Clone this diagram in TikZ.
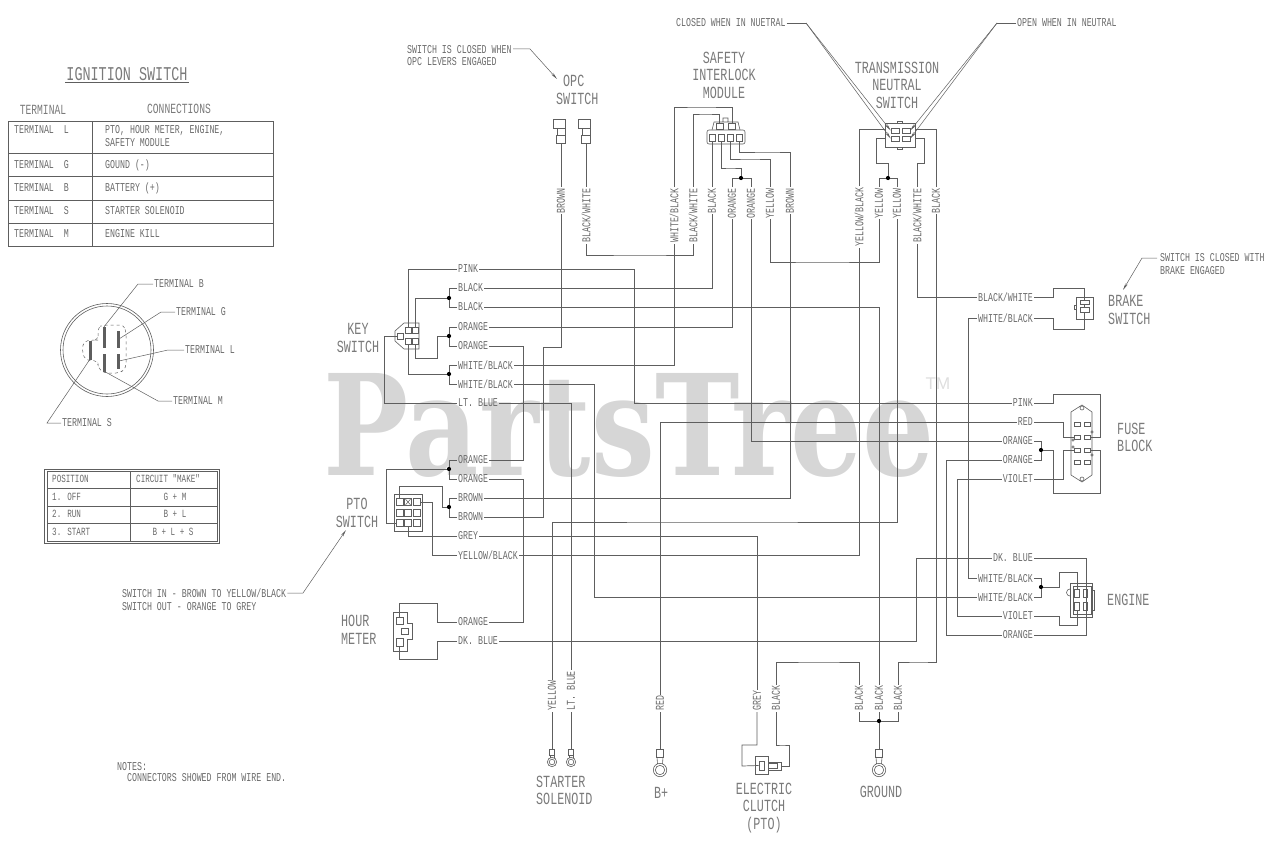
\documentclass[tikz,border=0pt]{standalone}
\usepackage{fontspec}
\usepackage{tikz}
\usetikzlibrary{arrows.meta}
\newfontfamily\cadfont[FakeStretch=0.69]{Liberation Mono}
\newfontfamily\markfont[FakeStretch=0.81]{DejaVu Serif}
\newfontfamily\tmfont{Liberation Sans}
\definecolor{wirecol}{HTML}{5E5E5E}
\definecolor{txtcol}{HTML}{6A6A6A}
\definecolor{bigcol}{HTML}{7A7A7A}
\definecolor{markcol}{HTML}{D6D6D6}
\tikzset{
  note/.style={font=\cadfont\fontsize{12}{12.5}\selectfont, text=txtcol, inner sep=1pt, align=left},
  tiny note/.style={font=\cadfont\fontsize{11}{12}\selectfont, text=txtcol, inner sep=1pt},
  head/.style={font=\cadfont\fontsize{14}{14}\selectfont, text=bigcol, inner sep=1pt},
  biglab/.style={font=\cadfont\fontsize{17}{17.5}\selectfont, text=bigcol, inner sep=1pt, align=center},
  wlab/.style={note, anchor=west},
  rlab/.style={note, anchor=east},
  vtop/.style={note, rotate=90, anchor=east},
  vbot/.style={note, rotate=90, anchor=west},
  wire/.style={draw=wirecol, line width=0.7pt},
  body/.style={draw=wirecol, line width=0.6pt},
  lead/.style={draw=wirecol, line width=0.5pt},
  tiplead/.style={lead, -{Stealth[length=7pt,width=2.5pt]}},
  pin/.style={draw=wirecol, line width=0.6pt, rectangle, inner sep=0pt, minimum width=#1},
  wdot/.style={circle, fill=black, inner sep=0pt, minimum size=4.2pt},
  blade/.style={draw=wirecol, fill=wirecol, inner sep=0pt, minimum width=1.6pt},
}
\begin{document}
\begin{tikzpicture}[x=1pt,y=-1pt]
  \useasboundingbox (0,0) rectangle (1280,851);
  \node[font=\markfont\bfseries\fontsize{140}{140}\selectfont, text=markcol, inner sep=0pt, anchor=base west] (brandmark) at (323,475) {PartsTree};
  \node[font=\tmfont\fontsize{17}{17}\selectfont, text=markcol!80, inner sep=0pt] (brandtm) at (938,384) {TM};

  % ignition switch table
  \node[font=\cadfont\fontsize{19.5}{20}\selectfont, text=bigcol, inner sep=1pt] (igntitle) at (127,74) {IGNITION SWITCH};
  \draw[lead] (igntitle.south west) -- (igntitle.south east);
  \node[head] (hdterm) at (43,110) {TERMINAL};
  \node[head] (hdconn) at (179,109) {CONNECTIONS};
  \draw[body] (8,121) rectangle (273,246);
  \draw[body] (92,121) -- (92,246);
  \foreach \y in {153,176,200,223} \draw[body] (8,\y) -- (273,\y);
  \node[wlab] (termL) at (13,130) {TERMINAL\ \ L};
  \node[wlab] (connL) at (104,136) {PTO, HOUR METER, ENGINE,\\SAFETY MODULE};
  \foreach \y/\t/\c in {165/G/GOUND (-),188/B/BATTERY (+),211/S/STARTER SOLENOID,234/M/ENGINE KILL} {
    \node[wlab] (term\t) at (13,\y) {TERMINAL\ \ \t};
    \node[wlab] (conn\t) at (104,\y) {\c};
  }

  % key face
  \draw[body] (107,350) circle (46.5);
  \draw[body] (107,350) circle (44);
  \draw[lead, dashed, rounded corners=4pt] (98,340) -- (98,327) -- (104,325) -- (124,325) -- (126,332) -- (126,368) -- (120,373) -- (104,373) -- (98,368) -- (98,361) -- (85,360) -- (82,350) -- (84,341) -- (94,340) -- cycle;
  \node[blade, minimum height=20pt] (bladeB) at (104,337) {};
  \node[blade, minimum height=16pt] (bladeG) at (118,339) {};
  \node[blade, minimum height=14pt] (bladeL) at (118,361) {};
  \node[blade, minimum height=17pt] (bladeM) at (104,362.5) {};
  \node[blade, minimum height=18pt] (bladeS) at (90,350) {};
  \node[wlab] (lblB) at (153,284) {TERMINAL B};
  \node[wlab] (lblG) at (175,312) {TERMINAL G};
  \node[wlab] (lblL) at (184,350) {TERMINAL L};
  \node[wlab] (lblM) at (172,401) {TERMINAL M};
  \node[wlab] (lblS) at (61,423) {TERMINAL S};
  \draw[lead] (lblB.west) -- (138,284) -- (bladeB.north);
  \draw[lead] (lblG.west) -- (161,312) -- (bladeG.east);
  \draw[lead] (lblL.west) -- (168,350) -- (bladeL.east);
  \draw[lead] (lblM.west) -- (158,401) -- (bladeM.south);
  \draw[lead] (lblS.west) -- (47,423) -- (bladeS.south);

  % position table
  \draw[body] (44,469) rectangle (219,543);
  \draw[body] (47,471) rectangle (217,541);
  \draw[body] (130,471) -- (130,541);
  \foreach \y in {488,506,523} \draw[body] (47,\y) -- (217,\y);
  \node[tiny note, anchor=west] (posA) at (51,479) {POSITION};
  \node[tiny note, anchor=west] (posB) at (135,479) {CIRCUIT "MAKE"};
  \node[tiny note, anchor=west] (posC) at (51,497) {1. OFF};
  \node[tiny note, anchor=west] (posD) at (51,514) {2. RUN};
  \node[tiny note, anchor=west] (posE) at (51,532) {3. START};
  \node[tiny note] (posF) at (175,497) {G + M};
  \node[tiny note] (posG) at (175,514) {B + L};
  \node[tiny note] (posH) at (173,532) {B + L + S};

  \node[wlab] (ptonote) at (121,599.5) {SWITCH IN - BROWN TO YELLOW/BLACK\\SWITCH OUT - ORANGE TO GREY};
  \coordinate (ptotip) at (346,530);
  \draw[tiplead] (ptonote.north east |- 0,593) -- (303,593) -- (ptotip);
  \node[wlab] (notesA) at (116,767) {NOTES:};
  \node[wlab] (notesB) at (126,778) {CONNECTORS SHOWED FROM WIRE END.};

  % annotations
  \node[wlab] (opcnote) at (406,55.5) {SWITCH IS CLOSED WHEN\\OPC LEVERS ENGAGED};
  \coordinate (opctip) at (557,79);
  \draw[tiplead] (513,49) -- (530,49) -- (opctip);
  \node[wlab] (closednote) at (675,23) {CLOSED WHEN IN NUETRAL};
  \node[wlab] (opennote) at (1016,23) {OPEN WHEN IN NEUTRAL};
  \node[wlab] (brakenote) at (1159,264) {SWITCH IS CLOSED WITH\\BRAKE ENGAGED};
  \coordinate (braketip) at (1123,290);
  \draw[tiplead] (1157,258) -- (1142,258) -- (braketip);

  % component names
  \node[biglab, align=left, anchor=north west] (nameopc) at (555,74) {\hspace*{7pt}OPC\\SWITCH};
  \node[biglab] (namesafety) at (724,75) {SAFETY\\INTERLOCK\\MODULE};
  \node[biglab] (nametrans) at (897,85) {TRANSMISSION\\NEUTRAL\\SWITCH};
  \node[biglab] (namekey) at (358,338) {KEY\\SWITCH};
  \node[biglab] (namepto) at (357,513) {PTO\\SWITCH};
  \node[biglab, align=left, anchor=west] (namehour) at (340,630) {HOUR\\METER};
  \node[biglab, align=left, anchor=west] (namebrake) at (1107,310) {BRAKE\\SWITCH};
  \node[biglab, align=left, anchor=west] (namefuse) at (1116,437.5) {FUSE\\BLOCK};
  \node[biglab, anchor=west] (nameengine) at (1106,600) {ENGINE};
  \node[biglab, align=left, anchor=west] (namestarter) at (535,790.5) {STARTER\\SOLENOID};
  \node[biglab, anchor=west] (namebplus) at (653,793) {B+};
  \node[biglab] (nameclutch) at (764,808) {ELECTRIC\\CLUTCH\\(PTO)};
  \node[biglab] (nameground) at (881,792) {GROUND};

  % left labels
  \node[wlab] (pinkL) at (457,269) {PINK};
  \node[wlab] (blkAL) at (457,288) {BLACK};
  \node[wlab] (blkBL) at (457,307) {BLACK};
  \node[wlab] (orAL) at (457,327) {ORANGE};
  \node[wlab] (orBL) at (457,346) {ORANGE};
  \node[wlab] (wbAL) at (457,365) {WHITE/BLACK};
  \node[wlab] (wbBL) at (457,384) {WHITE/BLACK};
  \node[wlab] (ltL) at (457,403) {LT. BLUE};
  \node[wlab] (orCL) at (457,460) {ORANGE};
  \node[wlab] (orDL) at (457,479) {ORANGE};
  \node[wlab] (brnAL) at (457,498) {BROWN};
  \node[wlab] (brnBL) at (457,517) {BROWN};
  \node[wlab] (greyL) at (457,536) {GREY};
  \node[wlab] (ybL) at (457,555) {YELLOW/BLACK};
  \node[wlab] (orEL) at (457,622) {ORANGE};
  \node[wlab] (dkL) at (457,641) {DK. BLUE};

  % right labels
  \node[rlab] (bwR) at (1034,297) {BLACK/WHITE};
  \node[rlab] (wbR) at (1034,318) {WHITE/BLACK};
  \node[rlab] (pinkR) at (1034,403) {PINK};
  \node[rlab] (redR) at (1034,422) {RED};
  \node[rlab] (orAR) at (1034,441) {ORANGE};
  \node[rlab] (orBR) at (1034,460) {ORANGE};
  \node[rlab] (vioR) at (1034,479) {VIOLET};
  \node[rlab] (dkR) at (1034,558) {DK. BLUE};
  \node[rlab] (wbCR) at (1034,578) {WHITE/BLACK};
  \node[rlab] (wbDR) at (1034,597) {WHITE/BLACK};
  \node[rlab] (vioER) at (1034,616) {VIOLET};
  \node[rlab] (orER) at (1034,635) {ORANGE};

  % top labels
  \node[vtop] (brnT) at (561,187) {BROWN};
  \node[vtop] (bwT) at (586,187) {BLACK/WHITE};
  \node[vtop] (wbT) at (674,187) {WHITE/BLACK};
  \node[vtop] (bwS) at (693,187) {BLACK/WHITE};
  \node[vtop] (blkS) at (712,187) {BLACK};
  \node[vtop] (orS) at (732,187) {ORANGE};
  \node[vtop] (orW) at (751,187) {ORANGE};
  \node[vtop] (yelS) at (770,187) {YELLOW};
  \node[vtop] (brnS) at (790,187) {BROWN};
  \node[vtop] (ybN) at (859,186) {YELLOW/BLACK};
  \node[vtop] (yelN) at (879,187) {YELLOW};
  \node[vtop] (yelW) at (897,187) {YELLOW};
  \node[vtop] (bwN) at (917,187) {BLACK/WHITE};
  \node[vtop] (blkN) at (936,187) {BLACK};

  % bottom labels
  \node[vbot] (yelB) at (552,712) {YELLOW};
  \node[vbot] (ltB) at (571,712) {LT. BLUE};
  \node[vbot] (redB) at (660,712) {RED};
  \node[vbot] (greyB) at (757,712) {GREY};
  \node[vbot] (blkC) at (776,712) {BLACK};
  \node[vbot] (gndA) at (859,712) {BLACK};
  \node[vbot] (gndB) at (879,712) {BLACK};
  \node[vbot] (gndC) at (898,712) {BLACK};

  % key switch connector
  \draw[body] (404,323) -- (419,323) -- (419,349) -- (404,349) -- (395,341) -- (395,331) -- cycle;
  \node[pin=6pt, minimum height=6pt] (keyA) at (408,330.5) {};
  \node[pin=6pt, minimum height=6pt] (keyB) at (415.5,330.5) {};
  \node[pin=6pt, minimum height=6pt] (keyC) at (408,341.5) {};
  \node[pin=6pt, minimum height=6pt] (keyD) at (415.5,341.5) {};
  \node[pin=6pt, minimum height=6pt] (keyE) at (400,336) {};

  % pto switch connector
  \draw[body] (394,494) rectangle (422,531);
  \foreach \y/\r in {502/A,513/B,523/C} \foreach \x/\c in {399.5/1,408/2,416.5/3}
    \node[pin=7pt, minimum height=7.5pt] (pto\r\c) at (\x,\y) {};
  \draw[lead] (405,498.5) -- (411,505.5) (411,498.5) -- (405,505.5);

  % hour meter
  \draw[body] (393,612) -- (407,612) -- (407,623) -- (412,623) -- (412,639) -- (407,639) -- (407,651) -- (393,651) -- cycle;
  \node[pin=7pt, minimum height=7pt] (hourA) at (399.5,620.5) {};
  \node[pin=7pt, minimum height=6pt] (hourB) at (404.5,631) {};
  \node[pin=7pt, minimum height=8pt] (hourC) at (399.5,642) {};

  % opc switch
  \foreach \x/\n in {561/A,586/B} {
    \node[pin=9pt, minimum height=8pt] (opc\n) at (\x,139) {};
    \draw[body] (\x-8,119) rectangle (\x+4,128);
    \draw[body] (\x-4,128) rectangle (\x+4,135);
  }

  % safety module
  \draw[body] (712,130) -- (714,122) -- (738,122) -- (740,130) (723,122) -- (723,118) -- (728,118) -- (728,122);
  \draw[body, rounded corners=2pt] (707,130) rectangle (745,144);
  \node[pin=7pt, minimum height=6pt] (safA) at (719.5,126) {};
  \node[pin=7pt, minimum height=6pt] (safB) at (732,126) {};
  \node[pin=6pt, minimum height=7pt] (safC) at (712,137.5) {};
  \node[pin=6pt, minimum height=7pt] (safD) at (721,137.5) {};
  \node[pin=6pt, minimum height=7pt] (safE) at (730.5,137.5) {};
  \node[pin=6pt, minimum height=7pt] (safF) at (739.5,137.5) {};
  \node[wdot] (safdot) at (741,178) {};

  % transmission switch
  \draw[body] (885,123) rectangle (915,147);
  \draw[body] (897,123) -- (897,121) -- (902,121) -- (902,123) (897,147) -- (897,149) -- (902,149) -- (902,147);
  \node[pin=8pt, minimum height=5pt] (trnA) at (895,130.5) {};
  \node[pin=8pt, minimum height=5pt] (trnB) at (906,130.5) {};
  \node[pin=8pt, minimum height=5pt] (trnC) at (895,138.5) {};
  \node[pin=8pt, minimum height=5pt] (trnD) at (906,138.5) {};
  \coordinate (trnW) at (885,129);
  \coordinate (trnX) at (915,129);
  \coordinate (trnY) at (885,138);
  \coordinate (trnZ) at (915,138);
  \node[wdot] (trndot) at (888,178) {};
  \draw[lead] (closednote.east) -- (806,23);
  \draw[tiplead] (806,23) -- (trnA.west);
  \draw[tiplead] (806,23) -- (trnC.west);
  \draw[lead] (opennote.west) -- (997,23);
  \draw[tiplead] (997,23) -- (trnB.east);
  \draw[tiplead] (997,23) -- (trnD.east);

  % brake switch
  \draw[body] (1076,297) rectangle (1093,319);
  \draw[body] (1076,305) -- (1074,305) -- (1074,309) -- (1076,309);
  \node[pin=9pt, minimum height=4pt] (brkA) at (1084.5,302) {};
  \node[pin=9pt, minimum height=5pt] (brkB) at (1084.5,310) {};

  % fuse block
  \draw[body] (1082,405) -- (1092,412) -- (1092,475) -- (1082,482) -- (1071,475) -- (1071,412) -- cycle;
  \draw[body] (1082,408) circle (2);
  \draw[body] (1082,479) circle (2);
  \draw[body] (1092,432) circle (1.3) (1092,455) circle (1.3) (1073,440) circle (1.3) (1073,447) circle (1.3);
  \foreach \y/\r in {424/A,437/B,450/C,462/D} \foreach \x/\c in {1077/1,1087/2}
    \node[pin=6pt, minimum height=4pt] (fus\r\c) at (\x,\y) {};
  \node[wdot] (fusdot) at (1041,450) {};

  % engine
  \draw[body] (1070,583) rectangle (1092,617);
  \draw[body] (1073,586) rectangle (1091,614);
  \draw[body] (1070,596) arc (90:270:3.5);
  \draw[body] (1092,590) -- (1094,590) -- (1094,610) -- (1092,610);
  \node[pin=4.5pt, minimum height=8pt] (engA) at (1077,593) {};
  \node[pin=4.5pt, minimum height=8pt] (engB) at (1085.5,593) {};
  \node[pin=4.5pt, minimum height=8pt] (engC) at (1077,606) {};
  \node[pin=4.5pt, minimum height=8pt] (engD) at (1085.5,606) {};
  \node[wdot] (engdot) at (1041,587) {};

  % bottom terminals
  \foreach \x/\n in {552/A,571/B} {
    \node[pin=5pt, minimum height=6pt] (lugs\n) at (\x,752) {};
    \draw[body] (\x,762) circle (4.7) (\x,762) circle (2.8);
    \draw[body] (\x-2,755) -- (\x-2,758) (\x+2,755) -- (\x+2,758);
  }
  \foreach \x/\n in {660/C,879/D} {
    \node[pin=6.5pt, minimum height=8pt] (lugs\n) at (\x,753) {};
    \draw[body] (\x,770) circle (6.7) (\x,770) circle (4.7);
    \draw[body] (\x-3,757) -- (\x-2.5,764) (\x+3,757) -- (\x+2.5,764);
  }
  \node[wdot] (gnddot) at (879,721) {};

  % clutch
  \draw[body] (755,756) rectangle (768,774);
  \draw[body] (768,762) rectangle (781,770);
  \node[pin=5pt, minimum height=9pt] (cluA) at (761.5,765.5) {};
  \node[pin=9pt, minimum height=5pt] (cluB) at (772.5,766) {};
  \coordinate (cluC) at (781,766);

  % key switch wires
  \node[wdot] (keydotA) at (449,298) {};
  \node[wdot] (keydotB) at (449,336) {};
  \node[wdot] (keydotC) at (449,374) {};
  \draw[wire] (pinkL.west) -| (keyA.north);
  \draw[wire] (keydotA.north) |- (blkAL.west);
  \draw[wire] (keydotA.south) |- (blkBL.west);
  \draw[wire] (keydotA.west) -| (keyB.north);
  \draw[wire] (keydotB.north) |- (orAL.west);
  \draw[wire] (keydotB.south) |- (orBL.west);
  \draw[wire] (keydotB.west) -| (437,358) -| (keyD.south);
  \draw[wire] (keydotC.north) |- (wbAL.west);
  \draw[wire] (keydotC.south) |- (wbBL.west);
  \draw[wire] (keydotC.west) -| (keyC.south);
  \draw[wire] (ltL.west) -| (384,336) -- (keyE.west);

  % pto and hour meter wires
  \node[wdot] (ptodotA) at (449,469) {};
  \node[wdot] (ptodotB) at (449,507) {};
  \draw[wire] (ptodotA.north) |- (orCL.west);
  \draw[wire] (ptodotA.south) |- (orDL.west);
  \draw[wire] (ptodotA.west) -| (386,523) -- (ptoC1.west);
  \draw[wire] (ptodotB.north) |- (brnAL.west);
  \draw[wire] (ptodotB.south) |- (brnBL.west);
  \draw[wire] (ptodotB.west) -| (442,486) -| (ptoA1.north);
  \draw[wire] (greyL.west) -| (ptoC2.south);
  \draw[wire] (ybL.west) -| (432,502) -- (ptoA3.east);
  \draw[wire] (orEL.west) -| (437,603) -| (hourA.north);
  \draw[wire] (dkL.west) -| (437,659) -| (hourC.south);

  % top connector wires
  \draw[wire] (opcA.south) -- (brnT.east);
  \draw[wire] (opcB.south) -- (bwT.east);
  \draw[wire] (wbT.east) |- (700,107) -| (safB.north);
  \draw[wire] (bwS.east) |- (705,114) -| (safA.north);
  \draw[wire] (safC.south) -- (blkS.east);
  \draw[wire] (safD.south) |- (730,168) -| (safdot.north);
  \draw[wire] (safdot.west) -| (orS.east);
  \draw[wire] (safdot.east) -| (orW.east);
  \draw[wire] (safE.south) |- (750,159) -| (yelS.east);
  \draw[wire] (safF.south) |- (770,152) -| (brnS.east);
  \draw[wire] (ybN.east) |- (trnW);
  \draw[wire] (blkN.east) |- (trnX);
  \draw[wire] (trndot.west) -| (yelN.east);
  \draw[wire] (trndot.east) -| (yelW.east);
  \draw[wire] (trndot.north) |- (876,163) |- (trnY);
  \draw[wire] (bwN.east) |- (924,163) |- (trnZ);

  % runs between labels
  \draw[wire] (brnT.west) |- (543,347) |- (brnBL.east);
  \draw[wire] (bwT.west) |- (640,255) -| (bwS.west);
  \draw[wire] (wbT.west) |- (wbAL.east);
  \draw[wire] (blkS.west) |- (blkAL.east);
  \draw[wire] (orS.west) |- (orAL.east);
  \draw[wire] (orW.west) |- (orAR.west);
  \draw[wire] (yelS.west) |- (820,262) -| (yelN.west);
  \draw[wire] (brnS.west) |- (brnAL.east);
  \draw[wire] (ybN.west) |- (ybL.east);
  \draw[wire] (yelW.west) |- (700,522) -| (yelB.east);
  \draw[wire] (bwN.west) |- (bwR.west);
  \draw[wire] (blkN.west) |- (920,662) -| (gndC.east);
  \draw[wire] (pinkL.east) -| (634,403) -- (pinkR.west);
  \draw[wire] (blkBL.east) -| (gndB.east);
  \draw[wire] (orBL.east) -| (523,460) -- (orCL.east);
  \draw[wire] (orDL.east) -| (523,622) -- (orEL.east);
  \draw[wire] (wbBL.east) -| (594,597) -- (wbDR.west);
  \draw[wire] (ltL.east) -| (ltB.east);
  \draw[wire] (greyL.east) -| (greyB.east);
  \draw[wire] (dkL.east) -| (916,558) -- (dkR.west);
  \draw[wire] (redR.west) -| (redB.east);
  \draw[wire] (wbR.west) -| (968,578) -- (wbCR.west);
  \draw[wire] (orBR.west) -| (946,635) -- (orER.west);
  \draw[wire] (vioR.west) -| (957,616) -- (vioER.west);
  \draw[wire] (blkC.east) |- (820,662) -| (gndA.east);

  % right connector wires
  \draw[wire] (bwR.east) -| (1053,288) -| (brkA.north);
  \draw[wire] (wbR.east) -| (1053,329) -| (brkB.south);
  \draw[wire] (brkA.south) -- (brkB.north);
  \draw[wire] (pinkR.east) -| (1053,394) -| (1100,437) -- (fusB2.east);
  \draw[wire] (redR.east) -| (1063,437) -- (fusB1.west);
  \draw[wire] (orAR.east) -| (fusdot.north);
  \draw[wire] (orBR.east) -| (fusdot.south);
  \draw[wire] (fusdot.east) -| (1053,493) -| (1100,450) -- (fusC2.east);
  \draw[wire] (vioR.east) -| (1063,450) -- (fusC1.west);
  \draw[wire] (wbCR.east) -| (engdot.north);
  \draw[wire] (wbDR.east) -| (engdot.south);
  \draw[wire] (engdot.east) -| (1059,572) -| (engA.north);
  \draw[wire] (vioER.east) -| (1059,625) -| (engC.south);
  \draw[wire] (dkR.east) -| (1086,635) -- (orER.east);

  % bottom wires
  \draw[wire] (yelB.west) -- (lugsA.north);
  \draw[wire] (ltB.west) -- (lugsB.north);
  \draw[wire] (redB.west) -- (lugsC.north);
  \draw[wire] (gndB.west) -- (gnddot.north);
  \draw[wire] (gnddot.west) -| (gndA.west);
  \draw[wire] (gnddot.east) -| (gndC.west);
  \draw[wire] (gnddot.south) -- (lugsD.north);
  \draw[wire] (greyB.west) |- (750,745) -| (742,766) -- (cluA.west);
  \draw[wire] (blkC.west) |- (782,745) -| (789,766) -- (cluC);
\end{tikzpicture}
\end{document}
